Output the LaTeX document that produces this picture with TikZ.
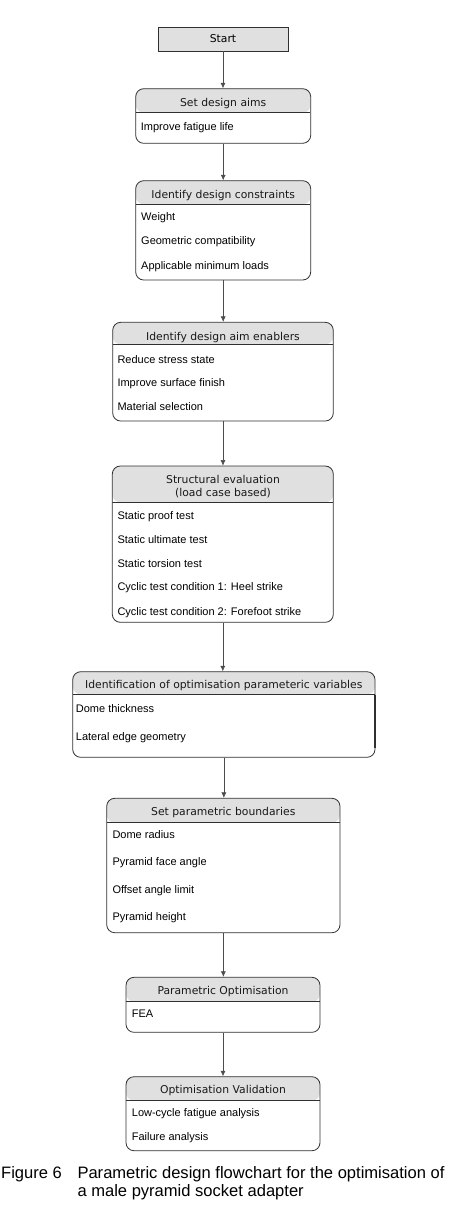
\documentclass[tikz,border=0pt]{standalone}
\usepackage{fontspec}
\setmainfont{Liberation Sans}
\newfontfamily\hdrfont{DejaVu Sans}
\usetikzlibrary{arrows.meta}
\definecolor{hdrgray}{HTML}{E0E0E0}
\definecolor{edgegray}{HTML}{303030}
\newcommand\flowbox[6]{%
  \node[draw=edgegray, line width=0.8pt, rounded corners=8pt, inner sep=0pt,
    minimum width={(#4-#2)*1pt}, minimum height={(#5-#3)*1pt},
    path picture={
      \fill[hdrgray] (path picture bounding box.north west) rectangle
        ([yshift={-(#6-#3)*1pt}]path picture bounding box.north east);
      \draw[edgegray, line width=0.8pt]
        ([yshift={-(#6-#3)*1pt}]path picture bounding box.north west) --
        ([yshift={-(#6-#3)*1pt}]path picture bounding box.north east);
    }] (#1) at ({(#2+#4)/2},{(#3+#5)/2}) {};}
\begin{document}
\begin{tikzpicture}[x=1pt,y=-1pt,
  hdrtxt/.style={font=\hdrfont\fontsize{10.8}{13}\selectfont, inner sep=0pt, anchor=base, text=black!90},
  itemtxt/.style={font=\fontsize{11}{13}\selectfont, inner sep=0pt, anchor=base west},
  captxt/.style={font=\fontsize{16.55}{18}\selectfont, inner sep=0pt, anchor=base west},
  flow/.style={draw=black!70, line width=0.6pt, -{Latex[length=5.5pt,width=5pt]}}]
\useasboundingbox (0,0) rectangle (454,1205);

% Start
\node[draw=edgegray, fill=hdrgray, line width=0.8pt, minimum width=130pt, minimum height=24pt,
  inner sep=0pt, font=\hdrfont\fontsize{10.8}{13}\selectfont] (start) at (223,39) {Start};

% Set design aims
\flowbox{aims}{135.7}{88.7}{310.7}{143.3}{112.7}
\node[hdrtxt] (aimsh) at (223.2,106.6) {Set design aims};
\node[itemtxt] (aims1) at (140.7,130) {Improve fatigue life};

% Identify design constraints
\flowbox{cons}{135.7}{180.7}{310.7}{280}{204.3}
\node[hdrtxt] (consh) at (223.2,198) {Identify design constraints};
\node[itemtxt] (cons1) at (141,220.7) {Weight};
\node[itemtxt] (cons2) at (141,244.7) {Geometric compatibility};
\node[itemtxt] (cons3) at (141,269) {Applicable minimum loads};

% Identify design aim enablers
\flowbox{enab}{112.7}{322.3}{333.3}{421}{344.3}
\node[hdrtxt] (enabh) at (223,340) {Identify design aim enablers};
\node[itemtxt] (enab1) at (117.3,363.3) {Reduce stress state};
\node[itemtxt] (enab2) at (117.3,386.7) {Improve surface finish};
\node[itemtxt] (enab3) at (117.3,410.7) {Material selection};

% Structural evaluation
\flowbox{struc}{112.3}{466}{333.3}{622.3}{502.3}
\node[hdrtxt] (struch1) at (223,483.3) {Structural evaluation};
\node[hdrtxt] (struch2) at (223,496.3) {(load case based)};
\node[itemtxt] (struc1) at (117.3,519.3) {Static proof test};
\node[itemtxt] (struc2) at (117.3,543.3) {Static ultimate test};
\node[itemtxt] (struc3) at (117.3,567.3) {Static torsion test};
\node[itemtxt] (struc4) at (117.3,590.7) {Cyclic test condition 1: Heel strike};
\node[itemtxt] (struc5) at (117.3,615) {Cyclic test condition 2: Forefoot strike};

% Identification of optimisation parametric variables
\flowbox{ident}{72.7}{671.7}{375}{757.3}{694.3}
\node[hdrtxt] (identh) at (223.8,688) {Identification of optimisation parameteric variables};
\node[itemtxt] (ident1) at (75.7,712.7) {Dome thickness};
\node[itemtxt] (ident2) at (75.7,740.7) {Lateral edge geometry};
\draw[edgegray, line width=1.8pt] ([xshift=-0.3pt,yshift=20pt]ident.east) -- ([xshift=-0.3pt,yshift=-33pt]ident.east);

% Set parametric boundaries
\flowbox{bound}{106.7}{798.3}{340}{932.7}{822.7}
\node[hdrtxt] (boundh) at (223.3,815.7) {Set parametric boundaries};
\node[itemtxt] (bound1) at (112.3,838.3) {Dome radius};
\node[itemtxt] (bound2) at (112.3,865.7) {Pyramid face angle};
\node[itemtxt] (bound3) at (112.3,893.3) {Offset angle limit};
\node[itemtxt] (bound4) at (112.3,920.7) {Pyramid height};

% Parametric Optimisation
\flowbox{popt}{126}{977.3}{320}{1032.3}{1001.7}
\node[hdrtxt] (popth) at (223,994) {Parametric Optimisation};
\node[itemtxt] (popt1) at (131.7,1017.3) {FEA};

% Optimisation Validation
\flowbox{valid}{126}{1076.7}{320}{1150.7}{1100.7}
\node[hdrtxt] (validh) at (223,1093) {Optimisation Validation};
\node[itemtxt] (valid1) at (131.7,1116.7) {Low-cycle fatigue analysis};
\node[itemtxt] (valid2) at (131.7,1140) {Failure analysis};

% Connectors
\draw[flow] (start.south) -- (start.south |- aims.north);
\draw[flow] (aims.south) -- (aims.south |- cons.north);
\draw[flow] (cons.south) -- (cons.south |- enab.north);
\draw[flow] (enab.south) -- (enab.south |- struc.north);
\draw[flow] (struc.south) -- (struc.south |- ident.north);
\draw[flow] (ident.south) -- (ident.south |- bound.north);
\draw[flow] (bound.south) -- (bound.south |- popt.north);
\draw[flow] (popt.south) -- (popt.south |- valid.north);

% Caption
\node[captxt] (figlab) at (1,1178.3) {Figure 6};
\node[captxt] (cap1) at (77.3,1178.3) {Parametric design flowchart for the optimisation of};
\node[captxt] (cap2) at (77.3,1196) {a male pyramid socket adapter};
\end{tikzpicture}
\end{document}
